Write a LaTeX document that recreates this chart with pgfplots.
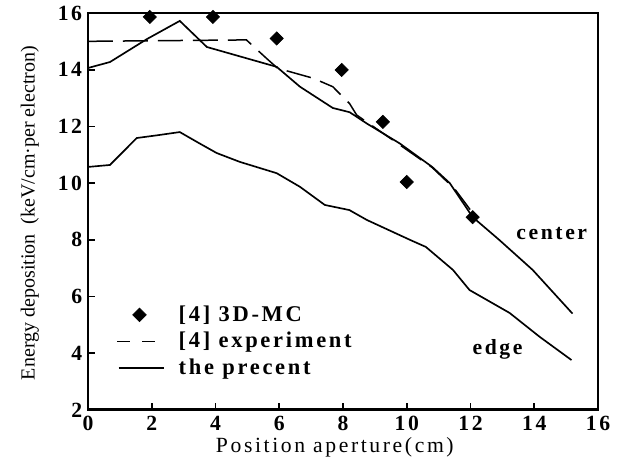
\documentclass[border=0pt]{standalone}
\usepackage{fontspec}
\setmainfont{Liberation Serif}
\newfontfamily\wide[LetterSpace=12]{Liberation Serif}
\usepackage{pgfplots}
\pgfplotsset{compat=1.18}
\begin{document}
\begin{tikzpicture}
\begin{axis}[
  scale only axis, width=306pt, height=238.2pt,
  xmin=0, xmax=16, ymin=2, ymax=16,
  xtick={0,2,...,16}, ytick={2,4,...,16},
  tick align=inside, tick pos=left,
  major tick length=4pt,
  tick style={black, line width=1pt},
  axis line style={line width=1.2pt},
  /pgf/number format/assume math mode=true,
  ticklabel style={font=\wide\fontsize{13}{14}\selectfont\bfseries},
  xlabel={Position aperture(cm)},
  ylabel={Energy deposition\ \ (keV/cm·per electron)},
  every axis x label/.style={at={(rel axis cs:0.484,-0.093)}, anchor=center,
    font=\wide\fontsize{13}{14}\selectfont},
  every axis y label/.style={at={(rel axis cs:-0.114,0.496)}, rotate=90, anchor=center,
    font=\fontsize{12}{13}\selectfont},
  legend style={at={(rel axis cs:0.045,0.28)}, anchor=north west, draw=none, fill=none,
    font=\wide\fontsize{13.5}{14}\selectfont\bfseries, row sep=1pt},
  legend cell align=left,
]
% 3D-MC (ref [4])
\addplot[only marks, mark=square*, mark options={rotate=45}, mark size=2.8pt, black,
  legend image code/.code={\draw[mark size=2.9pt] plot[mark=square*, mark options={rotate=45}] coordinates {(13.5pt,0pt)};
    \path[draw=none, fill=none] (0pt,0pt) -- (35pt,0pt);}] coordinates {
(1.94,15.86) (3.92,15.86) (5.92,15.1) (7.96,13.99) (9.25,12.16) (10.0,10.04) (12.07,8.8)
};
\addlegendentry{{[4] 3D-MC}}
% experiment (ref [4])
\addplot[black, line width=0.9pt, dash pattern=on 15pt off 6pt,
  legend image code/.code={\draw[line width=0.9pt, dash pattern=on 8pt off 7pt] (0pt,0pt) -- (25pt,0pt);
    \path[draw=none, fill=none] (0pt,0pt) -- (35pt,0pt);}] coordinates {
(0,15.0) (4.97,15.05) (5.6,14.4) (5.95,14.05) (7.06,13.7) (7.68,13.4) (8.21,12.8) (8.43,12.4)
(9.78,11.35) (10.8,10.55) (11.5,9.8) (12.1,8.9)
};
\addlegendentry{{[4] experiment}}
% the present, center
\addplot[black, line width=1pt,
  legend image code/.code={\draw[line width=1pt] (1pt,0pt) -- (28pt,0pt);
    \path[draw=none, fill=none] (0pt,0pt) -- (35pt,0pt);}] coordinates {
(0,14.06) (0.69,14.27) (1.85,15.08) (2.88,15.72) (3.73,14.8) (5.92,14.1) (6.65,13.4)
(7.68,12.65) (8.21,12.5) (8.75,12.1) (9.78,11.4) (10.8,10.57) (11.35,10.0) (12.07,8.8)
(12.9,8.0) (13.95,6.94) (15.2,5.4)
};
\addlegendentry{the precent}
% the present, edge
\addplot[black, line width=1pt, forget plot] coordinates {
(0,10.57) (0.69,10.64) (1.53,11.59) (2.26,11.7) (2.88,11.8) (3.5,11.4) (4.04,11.06)
(4.76,10.75) (5.92,10.35) (6.65,9.87) (7.43,9.23) (8.2,9.05) (8.75,8.7) (10.1,8.0)
(10.6,7.75) (11.45,6.94) (11.97,6.23) (13.23,5.42) (14.17,4.58) (15.17,3.76)
};
\node[font=\wide\fontsize{13}{14}\selectfont\bfseries] at (axis cs:14.55,8.24) {center};
\node[font=\wide\fontsize{13}{14}\selectfont\bfseries] at (axis cs:12.85,4.15) {edge};
\draw[line width=1.8pt] (rel axis cs:0,1) -- (rel axis cs:0,0) -- (rel axis cs:1,0);
\coordinate (bbA) at (rel axis cs:-0.1725,-0.1184);
\coordinate (bbB) at (rel axis cs:1.053,1.0327);
\end{axis}
\pgfresetboundingbox
\path (bbA) rectangle (bbB);
\end{tikzpicture}
\end{document}
